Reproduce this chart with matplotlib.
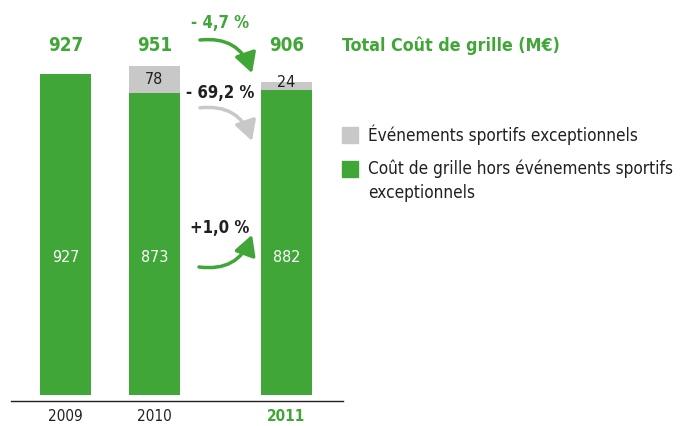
import matplotlib
matplotlib.use('Agg')
import matplotlib.pyplot as plt
from matplotlib.patches import Rectangle

plt.rcParams['font.family'] = ['DejaVu Sans']
plt.rcParams['font.stretch'] = 'condensed'

years = ['2009', '2010', '2011']
base = [927, 873, 882]
events = [0, 78, 24]
totals = [927, 951, 906]
changes = ['- 4,7 %', '- 69,2 %', '+1,0 %']
legend_title = 'Total Coût de grille (M€)'
legend_labels = ['Événements sportifs exceptionnels',
                 'Coût de grille hors événements sportifs\nexceptionnels']

GREEN = '#40a637'
GREY = '#c8c8c8'
DARK = '#231f20'

x = [0, 1, 2.48]
width = 0.573

fig = plt.figure(figsize=(6.88, 4.26), dpi=100)
ax = fig.add_axes([11 / 688, 25 / 426, 332 / 688, 401 / 426])
ax.set_xlim(-0.612, 3.118)
ax.set_ylim(-17.3, 1141.6)

ax.bar(x, base, width, color=GREEN)
ax.bar(x, events, width, bottom=base, color=GREY)

for xi, b, e, t in zip(x, base, events, totals):
    ax.text(xi, 396, str(b), color='white', fontsize=11.5, ha='center', va='center')
    if e:
        ax.text(xi, b + e / 2 + (10 if e < 40 else 0), str(e), color=DARK,
                fontsize=11.5, ha='center', va='center')
    ax.text(xi, 1009, str(t), color=GREEN, fontsize=13.5, fontweight='bold',
            ha='center', va='center')

ax.set_xticks(x, years, fontsize=11, color=DARK)
ax.tick_params(axis='x', length=0, pad=6)
ax.get_xticklabels()[2].set_color(GREEN)
ax.get_xticklabels()[2].set_fontweight('bold')
ax.set_yticks([])
for s in ['top', 'left', 'right']:
    ax.spines[s].set_visible(False)
ax.spines['bottom'].set_linewidth(1)
ax.spines['bottom'].set_color(DARK)

# change labels and arrows
ax.text(1.736, 1075, changes[0], color=GREEN, fontsize=12, fontweight='bold',
        ha='center', va='center')
ax.text(1.736, 873, changes[1], color=DARK, fontsize=12, fontweight='bold',
        ha='center', va='center')
ax.text(1.736, 483, changes[2], color=DARK, fontsize=12, fontweight='bold',
        ha='center', va='center')

arrow = dict(arrowstyle='-|>,head_length=0.6,head_width=0.33', lw=2.5,
             mutation_scale=20, shrinkA=0, shrinkB=0)
ax.annotate('', xy=(2.096, 930), xytext=(1.511, 1026),
            arrowprops=dict(color=GREEN, connectionstyle='arc3,rad=-0.4', **arrow))
ax.annotate('', xy=(2.096, 734), xytext=(1.511, 830),
            arrowprops=dict(color=GREY, connectionstyle='arc3,rad=-0.4', **arrow))
ax.annotate('', xy=(2.096, 463), xytext=(1.5, 370),
            arrowprops=dict(color=GREEN, connectionstyle='arc3,rad=0.4', **arrow))

# legend
fig.text(342 / 688, 1 - 46 / 426, legend_title, color=GREEN, fontsize=12.8,
         fontweight='bold', ha='left', va='center')
for c, lab, top in zip([GREY, GREEN], legend_labels, [127, 161]):
    fig.patches.append(Rectangle((342 / 688, 1 - (top + 16) / 426), 16 / 688, 16 / 426,
                                 transform=fig.transFigure, color=c))
    if '\n' in lab:
        fig.text(368 / 688, 1 - (top - 1) / 426, lab, color=DARK, fontsize=12.3,
                 ha='left', va='top', linespacing=1.4)
    else:
        fig.text(368 / 688, 1 - (top + 8) / 426, lab, color=DARK, fontsize=12.3,
                 ha='left', va='center')

fig.savefig('out.png', dpi=100)
